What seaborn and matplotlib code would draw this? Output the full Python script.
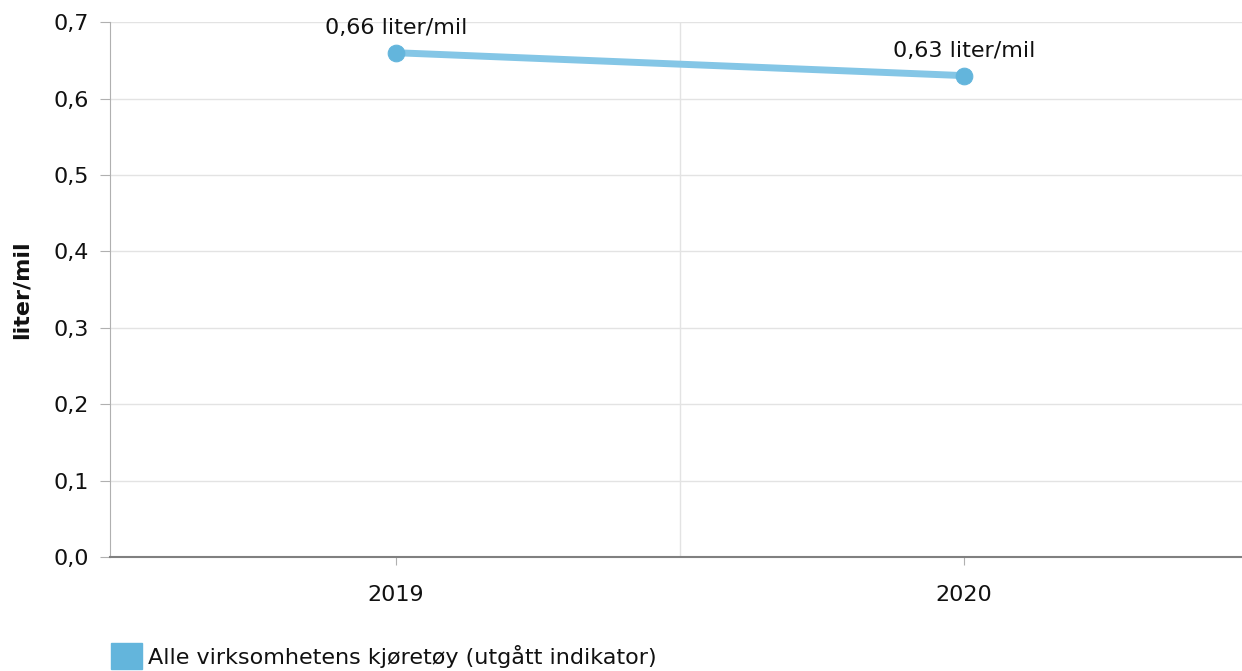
import pandas as pd
import matplotlib
matplotlib.use("Agg")
import matplotlib.pyplot as plt
import matplotlib.patches as mpatches
from matplotlib.ticker import FuncFormatter, MultipleLocator
import seaborn as sns

years = ["2019", "2020"]
values = [0.66, 0.63]
labels = ["0,66 liter/mil", "0,63 liter/mil"]
series_name = "Alle virksomhetens kjøretøy (utgått indikator)"
y_label = "liter/mil"

line_color = "#84c6e6"
marker_color = "#63b5dc"
fs = 16

sns.set_style("white")
plt.rcParams['font.family'] = ['DejaVu Sans']

df = pd.DataFrame({"year": years, "value": values})

fig = plt.figure(figsize=(12.42, 6.71), dpi=100)
ax = fig.add_axes([0.0886, 0.170, 0.9114, 0.797])

sns.lineplot(data=df, x="year", y="value", ax=ax, color=line_color,
             linewidth=5, marker="o", markersize=12, markerfacecolor=marker_color,
             markeredgecolor=marker_color, errorbar=None, sort=False)

for i, (v, lab) in enumerate(zip(values, labels)):
    ax.annotate(lab, (i, v), xytext=(0, 10.5), textcoords="offset points",
                ha="center", va="bottom", fontsize=fs, color="#111111")

ax.set_xlim(-0.503, 1.49)
ax.set_ylim(0, 0.7)
ax.yaxis.set_major_locator(MultipleLocator(0.1))
ax.yaxis.set_major_formatter(FuncFormatter(lambda v, p: f"{v:.1f}".replace(".", ",")))

ax.grid(axis="y", color="#e3e3e3", linewidth=1)
ax.axvline(0.5, color="#e3e3e3", linewidth=1, zorder=0)

for s in ["top", "right"]:
    ax.spines[s].set_visible(False)
ax.spines["left"].set_color("#b0b0b0")
ax.spines["bottom"].set_color("#808080")
ax.spines["bottom"].set_linewidth(1.5)

ax.tick_params(axis="y", length=7, color="#b0b0b0", labelsize=fs, labelcolor="#111111",
               pad=8, left=True)
ax.tick_params(axis="x", length=6, color="#b0b0b0", labelsize=fs, labelcolor="#111111",
               pad=14, bottom=True)

ax.set_xlabel("")
ax.set_ylabel(y_label, fontsize=fs, fontweight="bold", color="#111111", labelpad=16)

handle = mpatches.Patch(color=marker_color, label=series_name)
fig.legend(handles=[handle], loc="lower left", bbox_to_anchor=(0.073, -0.027),
           frameon=False, fontsize=fs, handlelength=1.4, handleheight=1.4,
           handletextpad=0.3, labelcolor="#111111")

fig.savefig("out.png", dpi=100)
